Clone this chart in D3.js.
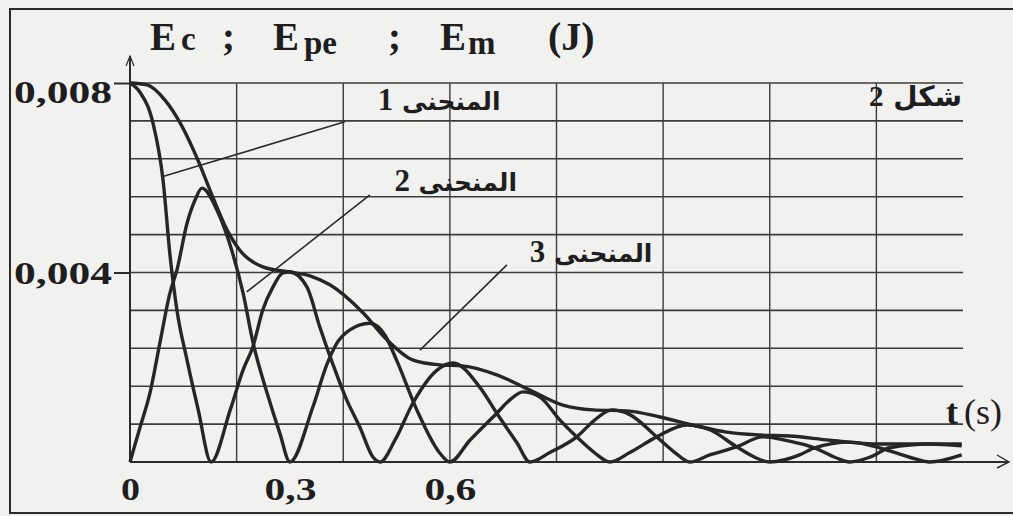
<!DOCTYPE html>
<html>
<head>
<meta charset="utf-8">
<script src="https://cdn.jsdelivr.net/npm/d3@7"></script>
<style>
  html, body { margin: 0; padding: 0; background: #f1f1f0; }
  svg { display: block; }
</style>
</head>
<body>
<div id="chart"></div>
<script>
var curveEpe = [
    [0, 0.0080], [0.019, 0.0078], [0.043, 0.00716], [0.062, 0.00595], [0.075, 0.00437],
    [0.088, 0.00321], [0.107, 0.00215], [0.128, 0.0011], [0.152, 0],
    [0.188, 0.0011], [0.212, 0.00194], [0.231, 0.00245], [0.249, 0.00321], [0.268, 0.00369],
    [0.287, 0.00399], [0.3, 0.00401], [0.332, 0.00369], [0.356, 0.00285], [0.381, 0.00205],
    [0.405, 0.00135], [0.431, 0.00074], [0.456, 0.0001], [0.469, 0],
    [0.497, 0.00046], [0.531, 0.00125], [0.576, 0.00194], [0.606, 0.00209], [0.656, 0.00158],
    [0.688, 0.00103], [0.726, 0.0004], [0.75, 0],
    [0.7875, 0.0002], [0.838, 0.00053], [0.872, 0.00089], [0.904, 0.0011], [0.9375, 0.001],
    [0.988, 0.00053], [1.022, 0.0002], [1.05, 0],
    [1.0875, 0.00015], [1.138, 0.00032], [1.187, 0.00053], [1.2375, 0.00044], [1.284, 0.0003],
    [1.322, 0.0001], [1.35, 0],
    [1.3875, 0.0001], [1.425, 0.0003], [1.5, 0.00038], [1.56, 0.00034]
];

var curveEc = [
    [0, 0], [0.019, 0.00074], [0.0375, 0.00146], [0.056, 0.00251], [0.075, 0.00357],
    [0.088, 0.00405], [0.107, 0.00504], [0.122, 0.00553], [0.135, 0.00578], [0.163, 0.00532],
    [0.19, 0.0045], [0.212, 0.00357], [0.231, 0.00251], [0.257, 0.00146], [0.281, 0.00061],
    [0.3, 0],
    [0.343, 0.00116], [0.369, 0.00205], [0.3875, 0.0025], [0.4125, 0.00279], [0.45, 0.00293],
    [0.478, 0.00268], [0.5, 0.00215], [0.538, 0.0011], [0.581, 0.00019], [0.6, 0],
    [0.6375, 0.00046], [0.688, 0.00103], [0.7125, 0.00131], [0.737, 0.00148], [0.769, 0.00137],
    [0.806, 0.00089], [0.838, 0.00053], [0.872, 0.00019], [0.9, 0],
    [0.9375, 0.0002], [0.988, 0.00053], [1.044, 0.00078], [1.0875, 0.00068], [1.138, 0.00032],
    [1.172, 0.0001], [1.2, 0],
    [1.256, 0.00015], [1.284, 0.0003], [1.35, 0.00042], [1.406, 0.0003], [1.4625, 0.0001],
    [1.5, 0], [1.56, 0.00015]
];

var curveEm = [
    [0, 0.0080], [0.032, 0.00796], [0.0656, 0.00764], [0.094, 0.00716], [0.1275, 0.00637],
    [0.15, 0.00574], [0.182, 0.0049], [0.206, 0.00447], [0.249, 0.00412], [0.3, 0.00401],
    [0.3375, 0.00393], [0.375, 0.00374], [0.437, 0.00315], [0.482, 0.00258], [0.531, 0.00215],
    [0.581, 0.00205], [0.624, 0.00203], [0.688, 0.00184], [0.75, 0.00152], [0.812, 0.0012],
    [0.868, 0.0011], [0.932, 0.00108], [0.994, 0.00095], [1.056, 0.00078], [1.119, 0.00063],
    [1.181, 0.00057], [1.2375, 0.00055], [1.3125, 0.00046], [1.406, 0.00038], [1.5, 0.00038],
    [1.56, 0.00038]
];

var yTicks = [0.004, 0.008],
    xTicks = [0, 0.3, 0.6];

var gridE = [0.0008, 0.0016, 0.0024, 0.0032, 0.004, 0.0048, 0.0056, 0.0064, 0.0072, 0.008],
    gridT = [0.2, 0.4, 0.6, 0.8, 1.0, 1.2, 1.4],
    tEnd = 1.5625;

// leader lines and labels of the three curves (in t / E units)
var leaders = [
    [[0.06, 0.00602], [0.403, 0.00718]],
    [[0.219, 0.00359], [0.45, 0.00564]],
    [[0.544, 0.00236], [0.707, 0.00416]]
];
var curveLabels = [
    {word: "المنحنى", num: "1", t: 0.695, E: 0.00742},
    {word: "المنحنى", num: "2", t: 0.726, E: 0.00573},
    {word: "المنحنى", num: "3", t: 0.98, E: 0.00422}
];

var width = 1013,
    height = 516;

var ink = "#2b2b2b";

var svg = d3.select("#chart").append("svg")
    .attr("width", width)
    .attr("height", height);

var x = d3.scaleLinear().domain([0, 1.6]).range([130, 983]),
    y = d3.scaleLinear().domain([0, 0.008]).range([462, 83]);

var comma = d3.formatLocale({decimal: ",", thousands: " ", grouping: [3], currency: ["", ""]});

// outer frame of the figure
svg.append("rect")
    .attr("x", 10).attr("y", 9)
    .attr("width", 1012).attr("height", 504)
    .attr("fill", "none")
    .attr("stroke", ink)
    .attr("stroke-width", 2);

// grid
svg.append("g").selectAll("line")
    .data(gridE)
    .join("line")
    .attr("x1", x(0)).attr("x2", x(tEnd))
    .attr("y1", d => y(d)).attr("y2", d => y(d))
    .attr("stroke", "#3c3c3c")
    .attr("stroke-width", 1.6);

svg.append("g").selectAll("line")
    .data(gridT)
    .join("line")
    .attr("x1", d => x(d)).attr("x2", d => x(d))
    .attr("y1", y(0)).attr("y2", y(0.008))
    .attr("stroke", "#3c3c3c")
    .attr("stroke-width", 1.4);

// axes with arrows
svg.append("line")
    .attr("x1", x(0)).attr("x2", 1008)
    .attr("y1", y(0)).attr("y2", y(0))
    .attr("stroke", ink).attr("stroke-width", 2.2);
svg.append("path")
    .attr("d", "M997,455 L1009,462 L997,468")
    .attr("fill", "none").attr("stroke", ink).attr("stroke-width", 1.4);

svg.append("line")
    .attr("x1", x(0)).attr("x2", x(0))
    .attr("y1", y(0)).attr("y2", 56)
    .attr("stroke", ink).attr("stroke-width", 2);
svg.append("path")
    .attr("d", "M126,66 L130,56 L134,66")
    .attr("fill", "none").attr("stroke", ink).attr("stroke-width", 1.2);

var yAxis = svg.append("g")
    .attr("transform", "translate(" + x(0) + ",0)")
    .call(d3.axisLeft(y).tickValues(yTicks).tickSize(16).tickPadding(2).tickFormat(comma.format(".3f")));
yAxis.select(".domain").remove();
yAxis.selectAll(".tick line").attr("stroke", ink).attr("stroke-width", 2);
yAxis.selectAll(".tick text")
    .attr("font-family", "Liberation Serif, serif")
    .attr("font-weight", "bold")
    .attr("font-size", 31)
    .attr("fill", "#1e1e1e")
    .attr("dy", d => d === 0.008 ? "0.62em" : "0.36em")
    .attr("textLength", 98)
    .attr("lengthAdjust", "spacingAndGlyphs");

var xAxis = svg.append("g")
    .attr("transform", "translate(0," + y(0) + ")")
    .call(d3.axisBottom(x).tickValues(xTicks).tickSize(0).tickPadding(16)
        .tickFormat(d => d === 0 ? "0" : comma.format(".1f")(d)));
xAxis.select(".domain").remove();
xAxis.selectAll(".tick text")
    .attr("font-family", "Liberation Serif, serif")
    .attr("font-weight", "bold")
    .attr("font-size", 32)
    .attr("fill", "#1e1e1e")
    .attr("dy", "0.7em")
    .attr("textLength", d => d === 0 ? 19 : 52)
    .attr("lengthAdjust", "spacingAndGlyphs");

// the three energy curves
var line = d3.line()
    .x(d => x(d[0]))
    .y(d => y(d[1]))
    .curve(d3.curveMonotoneX);

svg.append("g").selectAll("path")
    .data([curveEpe, curveEc, curveEm])
    .join("path")
    .attr("d", line)
    .attr("fill", "none")
    .attr("stroke", "#262626")
    .attr("stroke-width", 3.4)
    .attr("stroke-linejoin", "round");

// leader lines
svg.append("g").selectAll("line")
    .data(leaders)
    .join("line")
    .attr("x1", d => x(d[0][0])).attr("y1", d => y(d[0][1]))
    .attr("x2", d => x(d[1][0])).attr("y2", d => y(d[1][1]))
    .attr("stroke", ink)
    .attr("stroke-width", 1.6);

// curve labels (arabic, right to left)
var lab = svg.append("g").selectAll("text")
    .data(curveLabels)
    .join("text")
    .attr("x", d => x(d.t))
    .attr("y", d => y(d.E))
    .attr("direction", "rtl")
    .attr("text-anchor", "start")
    .attr("fill", "#1e1e1e");
lab.append("tspan")
    .attr("font-family", "DejaVu Sans, sans-serif")
    .attr("font-weight", "bold")
    .attr("font-size", 25)
    .text(d => d.word + " ");
lab.append("tspan")
    .attr("font-family", "Liberation Serif, serif")
    .attr("font-weight", "bold")
    .attr("font-size", 31)
    .text(d => d.num);

// figure number
var fig = svg.append("text")
    .attr("x", 962).attr("y", 106)
    .attr("direction", "rtl")
    .attr("text-anchor", "start")
    .attr("fill", "#1e1e1e");
fig.append("tspan")
    .attr("font-family", "DejaVu Sans, sans-serif")
    .attr("font-weight", "bold")
    .attr("font-size", 28)
    .text("شكل ");
fig.append("tspan")
    .attr("font-family", "Liberation Serif, serif")
    .attr("font-weight", "bold")
    .attr("font-size", 29)
    .text("2");

// title
var title = svg.append("text")
    .attr("y", 50)
    .attr("font-family", "Liberation Serif, serif")
    .attr("font-weight", "bold")
    .attr("font-size", 39)
    .attr("fill", "#1e1e1e");
title.append("tspan").attr("x", 150).text("E");
title.append("tspan").attr("x", 181).attr("font-size", 33).text("c");
title.append("tspan").attr("x", 222).text(";");
title.append("tspan").attr("x", 273).text("E");
title.append("tspan").attr("x", 304).attr("font-size", 33).attr("dy", 4).text("pe");
title.append("tspan").attr("x", 388).attr("dy", -4).text(";");
title.append("tspan").attr("x", 440).text("E");
title.append("tspan").attr("x", 468).attr("font-size", 33).attr("dy", 4).text("m");
title.append("tspan").attr("x", 548).attr("dy", -4).attr("font-size", 40).text("(J)");

// axis name
var tname = svg.append("text")
    .attr("x", 946).attr("y", 424)
    .attr("font-family", "Liberation Serif, serif")
    .attr("font-size", 36)
    .attr("fill", "#1e1e1e");
tname.append("tspan").attr("font-weight", "bold").text("t");
tname.append("tspan").attr("dx", 6).text("(s)");
</script>
</body>
</html>
